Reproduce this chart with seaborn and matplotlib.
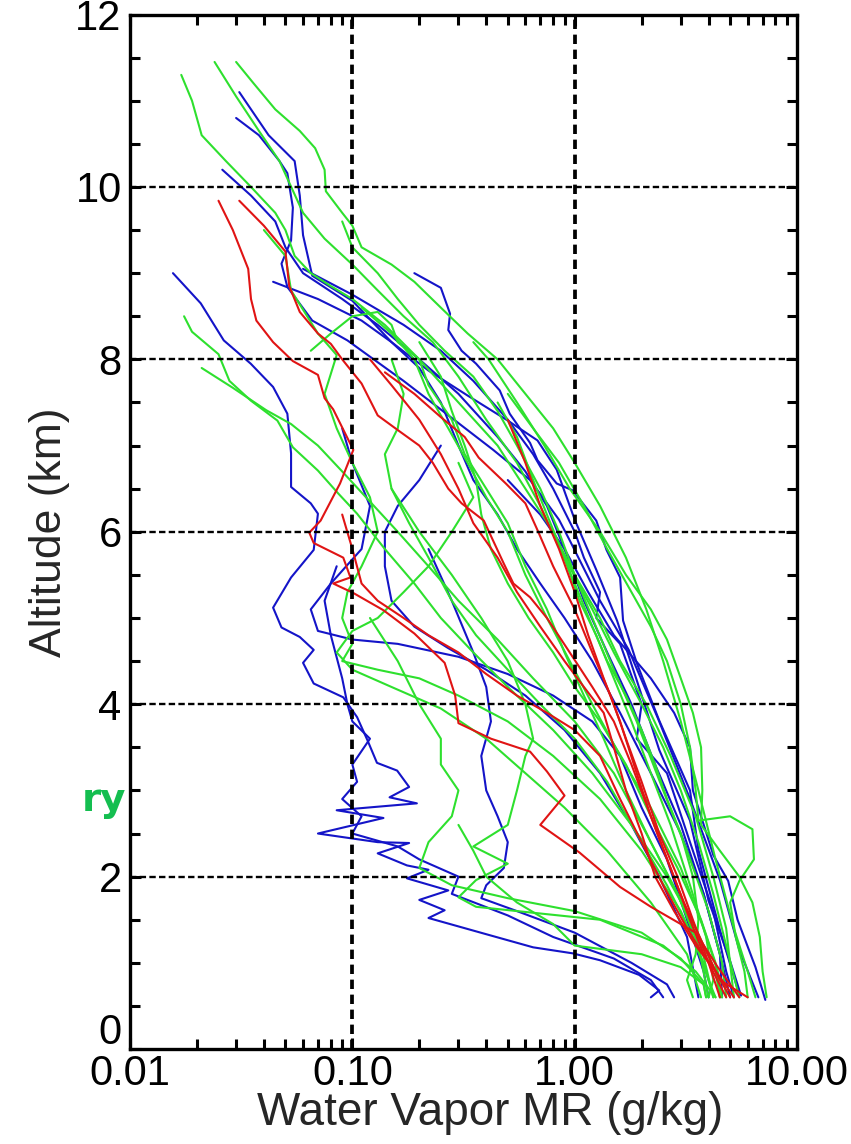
import matplotlib
matplotlib.use("Agg")
import matplotlib.pyplot as plt
import numpy as np
import pandas as pd
import seaborn as sns
from matplotlib.ticker import FixedLocator, NullFormatter
from matplotlib.transforms import ScaledTranslation

# profiles: (water vapor mixing ratio g/kg, altitude km), top to bottom
blue_1 = [(0.031, 11.1), (0.042, 10.6), (0.055, 10.3), (0.058, 9.9), (0.060, 9.44), (0.066, 8.97),
          (0.10, 8.68), (0.15, 8.2), (0.22, 7.87), (0.33, 7.58), (0.50, 7.29), (0.68, 7.06),
          (0.83, 6.72), (1.0, 6.14), (1.25, 5.56), (1.55, 4.97), (1.9, 4.28), (2.4, 3.47),
          (3.3, 2.65), (4.0, 1.72), (5.0, 1.02), (5.6, 0.62)]
blue_2 = [(0.030, 10.8), (0.038, 10.6), (0.047, 10.3), (0.051, 10.16), (0.054, 9.76), (0.053, 9.38),
          (0.048, 9.11), (0.051, 8.84), (0.066, 8.45), (0.095, 8.22), (0.17, 7.75), (0.29, 7.29),
          (0.43, 6.95), (0.63, 6.6), (0.85, 6.14), (0.95, 5.9), (1.3, 5.2), (1.75, 4.63),
          (2.4, 3.8), (3.3, 2.9), (4.5, 1.96), (5.5, 1.15), (6.7, 0.6)]
blue_3 = [(0.026, 10.2), (0.035, 9.9), (0.045, 9.6), (0.05, 9.3), (0.06, 9.0), (0.09, 8.7),
          (0.13, 8.4), (0.2, 8.0), (0.3, 7.6), (0.45, 7.1), (0.6, 6.7), (0.75, 6.3), (0.9, 5.8),
          (1.1, 5.2), (1.4, 4.6), (1.8, 4.0), (2.3, 3.3), (3.0, 2.6), (3.8, 1.8), (4.5, 1.1), (5.0, 0.6)]
blue_4 = [(0.0156, 9.0), (0.0208, 8.65), (0.0264, 8.22), (0.0349, 7.95), (0.044, 7.68), (0.051, 7.37),
          (0.053, 6.91), (0.053, 6.52), (0.065, 6.33), (0.070, 6.21), (0.067, 5.79), (0.053, 5.47),
          (0.044, 5.12), (0.048, 4.89), (0.058, 4.78), (0.067, 4.63), (0.060, 4.48), (0.067, 4.24),
          (0.091, 4.08), (0.105, 3.85), (0.117, 3.58), (0.129, 3.32), (0.159, 3.23), (0.18, 3.04),
          (0.147, 2.92), (0.195, 2.85), (0.085, 2.77), (0.138, 2.68), (0.07, 2.5), (0.13, 2.4),
          (0.18, 2.39), (0.13, 2.27), (0.176, 2.13), (0.22, 2.08), (0.176, 1.98), (0.27, 1.84),
          (0.20, 1.73), (0.26, 1.61), (0.22, 1.52), (0.39, 1.34), (0.65, 1.18), (0.98, 1.11),
          (1.3, 1.03), (1.95, 0.86), (2.4, 0.68), (2.2, 0.6)]
blue_5 = [(0.06, 9.05), (0.1, 8.75), (0.17, 8.4), (0.25, 8.1), (0.35, 7.75), (0.5, 7.3), (0.65, 6.9),
          (0.8, 6.5), (1.0, 6.0), (1.1, 5.7), (1.3, 5.3), (1.25, 5.0), (1.6, 4.7), (2.0, 4.0),
          (1.9, 3.6), (2.6, 3.2), (3.3, 2.4), (4.2, 1.6), (4.8, 0.9), (5.2, 0.6)]
blue_6 = [(0.044, 8.9), (0.07, 8.7), (0.11, 8.45), (0.15, 8.2), (0.2, 7.9), (0.25, 7.5), (0.3, 7.0),
          (0.35, 6.6), (0.45, 6.2), (0.55, 5.8), (0.7, 5.4), (0.9, 5.0), (1.2, 4.5), (1.6, 3.9),
          (2.2, 3.2), (3.0, 2.5), (3.8, 1.8), (4.5, 1.1), (4.6, 0.6)]
blue_7 = [(0.19, 9.0), (0.25, 8.83), (0.275, 8.53), (0.27, 8.34), (0.31, 8.1), (0.36, 7.95),
          (0.46, 7.64), (0.51, 7.37), (0.63, 7.03), (0.68, 6.83), (0.83, 6.56), (0.98, 6.48),
          (1.25, 6.13), (1.39, 5.79), (1.6, 5.47), (1.65, 4.97), (1.9, 4.48), (2.4, 3.81),
          (3.3, 3.0), (3.6, 2.31), (4.5, 1.38), (5.5, 0.63)]
blue_8 = [(0.09, 7.2), (0.1, 6.8), (0.12, 6.3), (0.11, 5.8), (0.08, 5.4), (0.065, 5.1), (0.07, 4.85),
          (0.1, 4.75), (0.16, 4.7), (0.3, 4.55), (0.5, 4.35), (0.8, 4.1), (1.2, 3.8), (1.6, 3.4),
          (2.0, 2.8), (2.6, 2.2), (3.2, 1.5), (3.8, 0.9), (4.0, 0.6)]
blue_9 = [(0.25, 7.0), (0.2, 6.6), (0.16, 6.3), (0.14, 6.0), (0.14, 5.6), (0.15, 5.2), (0.19, 4.9),
          (0.27, 4.65), (0.4, 4.4), (0.6, 4.1), (0.9, 3.7), (1.3, 3.2), (1.8, 2.6), (2.4, 2.0),
          (3.2, 1.3), (3.6, 0.6)]
blue_10 = [(0.22, 5.8), (0.28, 5.2), (0.35, 4.6), (0.4, 4.2), (0.42, 3.8), (0.38, 3.4), (0.4, 3.0),
           (0.45, 2.7), (0.5, 2.4), (0.48, 2.1), (0.4, 1.9), (0.38, 1.75), (0.55, 1.6), (1.0, 1.35),
           (1.8, 1.0), (2.6, 0.75), (2.8, 0.6)]
blue_11 = [(0.5, 6.6), (0.7, 6.2), (0.9, 5.8), (1.15, 5.3), (1.5, 4.8), (2.2, 4.3), (2.8, 3.9),
           (3.3, 3.5), (3.4, 3.0), (4.2, 2.25), (4.9, 1.95), (5.4, 1.5), (6.5, 0.95), (7.2, 0.57)]
blue_12 = [(0.085, 5.6), (0.075, 5.2), (0.08, 4.8), (0.09, 4.3), (0.095, 4.0), (0.1, 3.8),
           (0.12, 3.6), (0.1, 3.3), (0.105, 3.1), (0.09, 2.9), (0.11, 2.7), (0.1, 2.5), (0.16, 2.35),
           (0.2, 2.2), (0.3, 2.0), (0.28, 1.8), (0.5, 1.55), (0.8, 1.3), (1.5, 1.05), (2.2, 0.8),
           (2.5, 0.6)]

green_1 = [(0.017, 11.3), (0.019, 11.0), (0.021, 10.6), (0.027, 10.3), (0.035, 10.0), (0.045, 9.7),
           (0.05, 9.5), (0.055, 9.2), (0.065, 9.0), (0.08, 8.85), (0.1, 8.7), (0.14, 8.4), (0.2, 8.0),
           (0.3, 7.5), (0.45, 7.0), (0.6, 6.5), (0.8, 6.0), (1.0, 5.5), (1.3, 5.0), (1.6, 4.5),
           (2.1, 4.0), (2.7, 3.4), (3.5, 2.7), (4.2, 2.0), (4.8, 1.4), (5.2, 0.6)]
green_2 = [(0.024, 11.45), (0.03, 11.05), (0.038, 10.65), (0.047, 10.3), (0.052, 10.05), (0.06, 9.7),
           (0.075, 9.4), (0.1, 9.1), (0.13, 8.8), (0.17, 8.5), (0.23, 8.2), (0.3, 7.8), (0.4, 7.3),
           (0.55, 6.8), (0.7, 6.3), (0.9, 5.7), (1.2, 5.1), (1.5, 4.6), (2.0, 4.0), (2.5, 3.5),
           (3.0, 3.0), (3.6, 2.4), (4.2, 1.8), (4.8, 1.2), (5.5, 0.6)]
green_3 = [(0.030, 11.45), (0.036, 11.2), (0.045, 10.9), (0.058, 10.65), (0.068, 10.45), (0.075, 10.2),
           (0.076, 9.95), (0.09, 9.7), (0.1, 9.55), (0.11, 9.3), (0.15, 9.1), (0.19, 8.9), (0.25, 8.6),
           (0.33, 8.3), (0.45, 8.0), (0.6, 7.6), (0.8, 7.2), (1.0, 6.8), (1.3, 6.3), (1.7, 5.7),
           (2.1, 5.1), (2.5, 4.5), (3.0, 3.8), (3.6, 3.0), (4.3, 2.2), (5.2, 1.4), (6.0, 0.9), (6.5, 0.6)]
green_4 = [(0.0175, 8.5), (0.019, 8.32), (0.025, 8.06), (0.028, 7.75), (0.035, 7.52), (0.046, 7.29),
           (0.054, 6.98), (0.07, 6.71), (0.086, 6.45), (0.105, 6.21), (0.14, 5.8), (0.19, 5.4),
           (0.25, 5.0), (0.35, 4.6), (0.5, 4.2), (0.8, 3.7), (1.2, 3.2), (1.8, 2.6), (2.6, 2.0),
           (3.5, 1.4), (4.3, 0.9), (4.5, 0.6)]
green_5 = [(0.021, 7.9), (0.029, 7.67), (0.041, 7.41), (0.053, 7.25), (0.07, 7.0), (0.09, 6.7),
           (0.12, 6.35), (0.16, 6.0), (0.22, 5.6), (0.3, 5.2), (0.45, 4.75), (0.65, 4.3), (1.0, 3.8),
           (1.5, 3.2), (2.1, 2.5), (2.9, 1.8), (3.7, 1.2), (4.2, 0.6)]
green_6 = [(0.04, 9.5), (0.05, 9.2), (0.053, 8.8), (0.07, 8.3), (0.085, 8.05), (0.075, 7.6),
           (0.085, 7.2), (0.1, 6.8), (0.12, 6.4), (0.13, 6.0), (0.11, 5.6), (0.095, 5.3), (0.09, 5.0),
           (0.1, 4.7), (0.09, 4.5), (0.13, 4.4), (0.2, 4.3), (0.3, 4.1), (0.5, 3.8), (0.8, 3.4),
           (1.3, 2.9), (2.0, 2.3), (3.0, 1.6), (3.8, 1.0), (4.2, 0.6)]
green_7 = [(0.15, 6.5), (0.2, 6.0), (0.28, 5.5), (0.38, 5.0), (0.5, 4.5), (0.6, 4.0), (0.65, 3.6),
           (0.6, 3.4), (0.55, 3.0), (0.5, 2.6), (0.35, 2.35), (0.5, 2.15), (0.36, 1.96), (0.3, 1.76),
           (0.36, 1.65), (1.3, 1.5), (2.5, 1.2), (3.5, 0.9), (4.3, 0.6)]
green_8 = [(0.09, 9.6), (0.1, 9.3), (0.13, 9.0), (0.16, 8.7), (0.2, 8.4), (0.26, 8.1), (0.35, 7.8),
           (0.45, 7.4), (0.55, 7.0), (0.7, 6.5), (0.85, 6.0), (1.0, 5.5), (1.2, 5.0), (1.5, 4.4),
           (1.9, 3.8), (2.5, 3.0), (3.2, 2.3), (4.0, 1.6), (4.6, 1.0), (4.8, 0.6)]
green_9 = [(0.11, 8.6), (0.15, 8.3), (0.19, 8.0), (0.22, 7.6), (0.27, 7.2), (0.33, 6.8), (0.4, 6.4),
           (0.5, 6.0), (0.6, 5.5), (0.75, 5.0), (0.95, 4.5), (1.2, 4.0), (1.6, 3.4), (2.2, 2.8),
           (3.0, 2.1), (3.8, 1.4), (4.4, 0.9), (4.6, 0.6)]
green_10 = [(0.2, 8.2), (0.25, 7.8), (0.28, 7.4), (0.32, 7.0), (0.36, 6.6), (0.38, 6.2), (0.42, 5.8),
            (0.5, 5.4), (0.62, 5.0), (0.8, 4.6), (1.0, 4.2), (1.3, 3.8), (1.7, 3.3), (2.2, 2.7),
            (2.9, 2.1), (3.7, 1.5), (4.3, 1.0), (4.5, 0.6)]
green_11 = [(0.15, 8.0), (0.17, 7.6), (0.16, 7.2), (0.14, 6.9), (0.15, 6.5), (0.18, 6.1), (0.22, 5.7),
            (0.28, 5.2), (0.36, 4.8), (0.5, 4.4), (0.7, 4.0), (1.0, 3.6), (1.4, 3.1), (1.9, 2.5),
            (2.6, 1.9), (3.4, 1.3), (4.0, 0.8), (4.3, 0.6)]
green_12 = [(0.3, 6.8), (0.35, 6.4), (0.28, 6.0), (0.22, 5.6), (0.17, 5.3), (0.13, 5.0), (0.1, 4.85),
            (0.085, 4.6), (0.1, 4.4), (0.15, 4.2), (0.25, 3.95), (0.4, 3.6), (0.6, 3.2), (0.9, 2.8),
            (1.4, 2.3), (2.2, 1.7), (3.2, 1.1), (3.7, 0.6)]
green_13 = [(0.45, 7.5), (0.55, 7.1), (0.65, 6.6), (0.75, 6.2), (0.9, 5.7), (1.05, 5.2), (1.25, 4.8),
            (1.5, 4.3), (1.8, 3.8), (2.2, 3.2), (2.7, 2.6), (3.3, 1.9), (3.9, 1.3), (4.2, 0.8), (4.0, 0.6)]
green_14 = [(0.12, 5.0), (0.16, 4.5), (0.2, 4.0), (0.25, 3.6), (0.25, 3.3), (0.3, 3.0), (0.28, 2.7),
            (0.22, 2.4), (0.2, 2.1), (0.28, 1.9), (0.5, 1.75), (1.0, 1.6), (2.0, 1.35), (3.0, 1.05),
            (3.8, 0.75), (3.9, 0.6)]
green_15 = [(0.065, 8.1), (0.08, 8.3), (0.1, 8.5), (0.13, 8.55), (0.15, 8.4), (0.16, 8.2), (0.2, 8.0),
            (0.22, 7.7), (0.28, 7.3), (0.32, 6.9), (0.4, 6.5), (0.5, 6.1), (0.6, 5.6), (0.75, 5.1),
            (0.9, 4.6), (1.1, 4.1), (1.35, 3.6), (1.7, 3.0), (2.2, 2.4), (2.9, 1.8), (3.6, 1.2), (4.0, 0.6)]
green_16 = [(0.8, 6.0), (1.0, 5.4), (1.2, 4.9), (1.4, 4.5), (1.7, 4.1), (2.0, 3.7), (2.3, 3.3),
            (2.6, 2.9), (3.0, 2.5), (3.4, 2.0), (3.6, 1.5), (3.5, 1.1), (3.2, 0.8), (3.4, 0.6)]
green_17 = [(0.3, 2.6), (0.35, 2.3), (0.4, 2.0), (0.55, 1.7), (0.8, 1.45), (1.0, 1.2), (2.0, 1.1),
            (3.0, 0.95), (3.8, 0.75), (3.9, 0.6)]
green_18 = [(0.5, 7.6), (0.65, 7.2), (0.85, 6.8), (1.1, 6.3), (1.4, 5.8), (1.8, 5.3), (2.2, 4.9),
            (2.6, 4.5), (3.0, 4.0), (3.3, 3.5), (3.5, 3.0), (3.6, 2.65), (5.0, 2.7), (6.3, 2.55),
            (6.4, 2.2), (5.5, 1.95), (5.0, 1.7), (5.3, 1.3), (5.8, 0.9), (6.0, 0.6)]
green_19 = [(0.35, 8.2), (0.41, 8.0), (0.55, 7.5), (0.73, 7.0), (0.95, 6.5), (1.3, 6.0), (1.7, 5.5),
            (2.2, 5.1), (2.6, 4.75), (3.0, 4.3), (3.4, 3.9), (3.7, 3.5), (3.75, 3.0), (3.7, 2.6),
            (4.5, 2.3), (5.5, 2.0), (6.3, 1.7), (6.8, 1.3), (7.0, 0.9), (7.3, 0.6)]

red_1 = [(0.025, 9.84), (0.029, 9.5), (0.034, 9.05), (0.035, 8.7), (0.037, 8.45), (0.044, 8.2),
         (0.054, 7.98), (0.07, 7.82), (0.075, 7.55), (0.082, 7.42), (0.101, 6.95), (0.088, 6.56),
         (0.072, 6.13), (0.064, 5.99), (0.067, 5.87), (0.091, 5.7), (0.098, 5.47), (0.082, 5.4),
         (0.101, 5.29), (0.138, 5.09), (0.19, 4.82), (0.26, 4.48), (0.29, 4.1), (0.30, 3.78),
         (0.42, 3.6), (0.63, 3.45), (0.75, 3.22), (0.9, 2.94), (0.7, 2.6), (1.05, 2.28), (1.6, 1.88),
         (2.2, 1.65), (3.5, 1.35), (4.4, 0.95), (5.5, 0.6)]
red_2 = [(0.031, 9.84), (0.04, 9.55), (0.05, 9.25), (0.052, 8.85), (0.058, 8.55), (0.07, 8.3),
         (0.08, 8.18), (0.09, 8.0), (0.11, 7.72), (0.13, 7.35), (0.16, 7.18), (0.2, 7.0), (0.23, 6.8),
         (0.27, 6.5), (0.31, 6.33), (0.39, 6.13), (0.48, 5.63), (0.53, 5.4), (0.63, 5.24), (0.75, 5.0),
         (0.95, 4.6), (1.2, 4.2), (1.5, 3.8), (1.8, 3.3), (2.2, 2.7), (2.7, 2.1), (3.3, 1.5),
         (3.8, 1.1), (4.6, 0.8), (5.2, 0.6)]
red_3 = [(0.14, 7.85), (0.19, 7.6), (0.25, 7.33), (0.32, 7.1), (0.37, 6.86), (0.49, 6.56), (0.6, 6.33),
         (0.68, 6.02), (0.8, 5.6), (1.0, 5.1), (1.2, 4.6), (1.45, 4.1), (1.7, 3.6), (2.0, 3.1),
         (2.4, 2.5), (2.9, 2.0), (3.4, 1.5), (4.0, 1.0), (4.5, 0.6)]
red_4 = [(0.12, 8.0), (0.15, 7.7), (0.2, 7.3), (0.25, 6.9), (0.3, 6.5), (0.35, 6.1), (0.45, 5.7),
         (0.55, 5.3), (0.7, 4.9), (0.9, 4.5), (1.1, 4.2), (1.35, 3.9), (1.5, 3.5), (1.7, 3.0),
         (2.0, 2.5), (2.3, 2.0), (2.8, 1.6), (3.5, 1.2), (4.3, 0.9), (5.0, 0.6)]
red_5 = [(0.09, 6.2), (0.1, 5.8), (0.11, 5.4), (0.13, 5.2), (0.17, 5.0), (0.22, 4.8), (0.3, 4.6),
         (0.4, 4.35), (0.55, 4.1), (0.75, 3.9), (1.0, 3.7), (1.3, 3.4), (1.6, 2.9), (2.0, 2.4),
         (2.5, 1.9), (3.2, 1.4), (4.0, 1.0), (4.8, 0.6)]
red_6 = [(0.5, 7.3), (0.6, 6.8), (0.7, 6.3), (0.85, 5.8), (1.0, 5.3), (1.15, 4.8), (1.35, 4.3),
         (1.6, 3.8), (1.9, 3.2), (2.2, 2.7), (2.6, 2.2), (3.1, 1.7), (3.8, 1.2), (4.5, 0.8), (6.0, 0.6)]

blue_profiles = [blue_1, blue_2, blue_3, blue_4, blue_5, blue_6, blue_7, blue_8, blue_9,
                 blue_10, blue_11, blue_12]
green_profiles = [green_1, green_2, green_3, green_4, green_5, green_6, green_7, green_8, green_9,
                  green_10, green_11, green_12, green_13, green_14, green_15, green_16, green_17,
                  green_18, green_19]
red_profiles = [red_1, red_2, red_3, red_4, red_5, red_6]

x_ticks = [0.01, 0.1, 1.0, 10.0]
x_tick_labels = ["0.01", "0.10", "1.00", "10.00"]
y_ticks = [0, 2, 4, 6, 8, 10, 12]

colors = {"blue": "#1414C8", "green": "#2EE02E", "red": "#E01414"}

rows = []
for group, profiles in [("blue", blue_profiles), ("green", green_profiles), ("red", red_profiles)]:
    for i, prof in enumerate(profiles):
        for mr, alt in prof:
            rows.append({"group": group, "profile": f"{group}_{i}", "mr": mr, "alt": alt})
df = pd.DataFrame(rows)

sns.set_style("ticks")
plt.rcParams["font.family"] = ["Liberation Sans", "DejaVu Sans"]

fig = plt.figure(figsize=(8.51, 11.44), dpi=100)
ax = fig.add_axes([0.1528, 0.083, 0.7838, 0.9043])

for group in ["blue", "green", "red"]:
    sub = df[df["group"] == group]
    sns.lineplot(data=sub, x="mr", y="alt", units="profile", estimator=None, sort=False,
                 color=colors[group], lw=1.5, ax=ax, legend=False)

ax.set_xscale("log")
ax.set_xlim(0.01, 10)
ax.set_ylim(0, 12)

for y in [2, 4, 6, 8, 10]:
    ax.axhline(y, color="black", lw=1.7, ls=(0, (2.7, 1.4)), zorder=5)
for x in [0.1, 1.0]:
    ax.axvline(x, color="black", lw=2.7, ls=(0, (2.5, 1.5)), zorder=5)

ax.xaxis.set_major_locator(FixedLocator(x_ticks))
ax.set_xticklabels(x_tick_labels)
ax.xaxis.set_minor_locator(FixedLocator([m * d for d in [0.01, 0.1, 1.0] for m in range(2, 10)]))
ax.xaxis.set_minor_formatter(NullFormatter())
ax.yaxis.set_major_locator(FixedLocator(y_ticks))
ax.yaxis.set_minor_locator(FixedLocator(list(np.arange(0, 12.01, 0.5))))

ax.tick_params(which="both", direction="in", top=True, right=True, width=2.2, colors="black",
               labelsize=30)
ax.tick_params(axis="x", pad=3.5)
ax.tick_params(axis="y", pad=6)
ax.tick_params(which="major", length=8)
ax.tick_params(which="minor", length=7)
for s in ax.spines.values():
    s.set_linewidth(2.4)
    s.set_color("black")

# lift the "0" altitude label so it sits clear of "0.01"
zero_label = ax.get_yticklabels()[0]
zero_label.set_transform(zero_label.get_transform() + ScaledTranslation(0, 15 / 72, fig.dpi_scale_trans))

ax.set_xlabel("Water Vapor MR (g/kg)", fontsize=33, labelpad=-2)
ax.xaxis.label.set_x(0.54)
ax.set_ylabel("Altitude (km)", fontsize=32, labelpad=4)

fig.text(126 / 851, 1 - 800 / 1144, "ry", color="#14BE50", fontsize=28, fontweight="bold",
         family="DejaVu Sans", ha="right", va="center")

fig.savefig("out.png", dpi=100)
